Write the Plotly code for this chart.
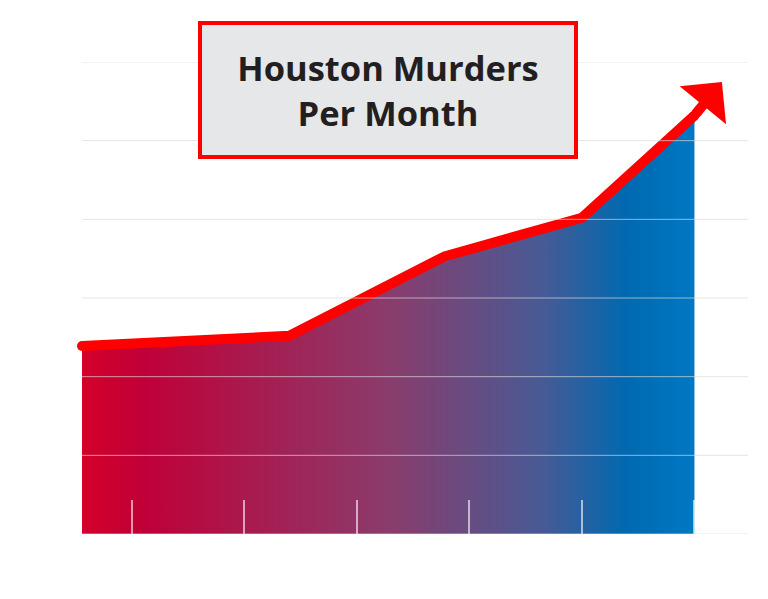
import plotly.graph_objects as go

# month position (tick units) and murders level (grid units)
months = [0.556, 2.4, 3.78, 5.0, 6.0]
murders = [2.39, 2.52, 3.53, 4.02, 5.32]
arrow_tip = (6.244, 5.745)

month_ticks = [1, 2, 3, 4, 5, 6]
grid_levels = [0, 1, 2, 3, 4, 5, 6]

gradient = [
    [0.0, "#d4002a"],
    [0.1, "#c00038"],
    [0.5, "#8a3c6c"],
    [0.75, "#485a94"],
    [0.89, "#0069b0"],
    [1.0, "#0078c4"],
]

fig = go.Figure()

fig.add_trace(go.Scatter(
    x=months, y=murders,
    mode="none",
    fill="tozeroy",
    fillgradient=dict(type="horizontal", colorscale=gradient),
    hoverinfo="skip",
))

fig.add_trace(go.Scatter(
    x=months, y=murders,
    mode="lines",
    line=dict(color="#ff0000", width=10),
    hoverinfo="skip",
))

# round caps at both ends of the line (joins the arrow too)
fig.add_trace(go.Scatter(
    x=[months[0], months[-1]], y=[murders[0], murders[-1]],
    mode="markers",
    marker=dict(color="#ff0000", size=10, line=dict(width=0)),
    cliponaxis=False,
    hoverinfo="skip",
))

for lvl in grid_levels:
    fig.add_hline(y=lvl, line=dict(color="rgba(218,218,218,0.69)", width=1), layer="above")

fig.add_annotation(
    x=arrow_tip[0], y=arrow_tip[1], xref="x", yref="y",
    ax=months[-1], ay=murders[-1], axref="x", ayref="y",
    text="", showarrow=True,
    arrowhead=1, arrowwidth=10, arrowsize=1.0, arrowcolor="#ff0000",
)

fig.add_annotation(
    x=0.459, y=0.941, xref="paper", yref="paper",
    xanchor="center", yanchor="middle",
    text="<b>Houston Murders<br>Per Month</b>",
    showarrow=False,
    font=dict(family="Open Sans", size=34.5, color="#231f20"),
    bgcolor="#e6e7e9",
    bordercolor="#ff0000", borderwidth=4, borderpad=0,
    width=372, height=130,
)

fig.update_xaxes(
    range=[0.556, 6.476],
    tickvals=month_ticks,
    ticks="inside", ticklen=34, tickwidth=1.5,
    tickcolor="rgba(255,255,255,0.6)",
    showticklabels=False,
    showgrid=False, zeroline=False, showline=False,
    layer="above traces",
)
fig.update_yaxes(
    range=[0, 6],
    showgrid=False, zeroline=False, showline=False,
    showticklabels=False, ticks="",
)

fig.update_layout(
    width=768, height=599,
    margin=dict(l=74, r=28, t=54, b=73),
    plot_bgcolor="white",
    paper_bgcolor="white",
    showlegend=False,
)

fig.write_html("out.html")
